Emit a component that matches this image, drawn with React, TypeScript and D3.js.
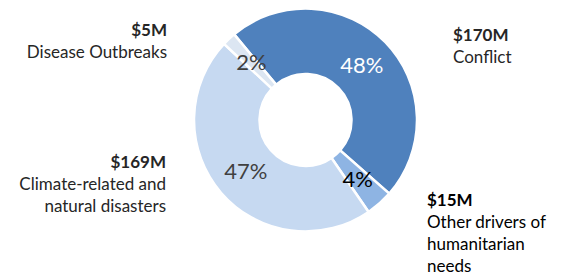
import React from "react";
import * as d3 from "d3";

const categories = ["Conflict", "Other drivers of humanitarian needs", "Climate-related and natural disasters", "Disease Outbreaks"];
const shares = [48, 4, 47, 2];
const amounts = ["$170M", "$15M", "$169M", "$5M"];
const colors = ["#4F81BD", "#8EB4E3", "#C6D9F1", "#DCE6F2"];
const pctColors = ["#FFFFFF", "#000000", "#404040", "#404040"];

const W = 561;
const H = 275;
const cx = 305.5;
const cy = 120;
const outerR = 111.5;
const innerR = 46;
const startDeg = -39.8;

type Label = { lines: string[]; x: number; y: number; anchor: "start" | "end"; color: string };
const sideLabels: Label[] = [
  { lines: [amounts[0], "Conflict"], x: 453, y: 41, anchor: "start", color: "#262626" },
  { lines: [amounts[1], "Other drivers of", "humanitarian", "needs"], x: 427, y: 206, anchor: "start", color: "#000000" },
  { lines: [amounts[2], "Climate-related and", "natural disasters"], x: 166, y: 168, anchor: "end", color: "#262626" },
  { lines: [amounts[3], "Disease Outbreaks"], x: 167, y: 36, anchor: "end", color: "#262626" },
];

export default function App() {
  const start = (startDeg * Math.PI) / 180;
  const pie = d3
    .pie<number>()
    .sort(null)
    .value((d) => d)
    .startAngle(start)
    .endAngle(start + 2 * Math.PI);
  const arcs = pie(shares);
  const arc = d3.arc<d3.PieArcDatum<number>>().innerRadius(innerR).outerRadius(outerR);
  const font = "Lato, 'Noto Sans', sans-serif";

  return (
    <svg width={W} height={H} style={{ position: "absolute", left: 0, top: 0 }} fontFamily={font}>
      <rect width={W} height={H} fill="#ffffff" />
      <g transform={`translate(${cx},${cy})`}>
        {arcs.map((a, i) => (
          <path key={categories[i]} d={arc(a) || ""} fill={colors[i]} stroke="#ffffff" strokeWidth={2.5} />
        ))}
        {arcs.map((a, i) => {
          const [x, y] = arc.centroid(a);
          return (
            <text key={"p" + i} x={x} y={y} dy="0.35em" textAnchor="middle" fontSize={22} fill={pctColors[i]}>
              {shares[i]}%
            </text>
          );
        })}
      </g>
      {sideLabels.map((l, i) => (
        <text key={"l" + i} x={l.x} y={l.y} textAnchor={l.anchor} fontSize={17} fill={l.color}>
          {l.lines.map((t, j) => (
            <tspan key={j} x={l.x} y={l.y + j * 22} fontWeight={j === 0 ? 700 : 400}>
              {t}
            </tspan>
          ))}
        </text>
      ))}
    </svg>
  );
}
